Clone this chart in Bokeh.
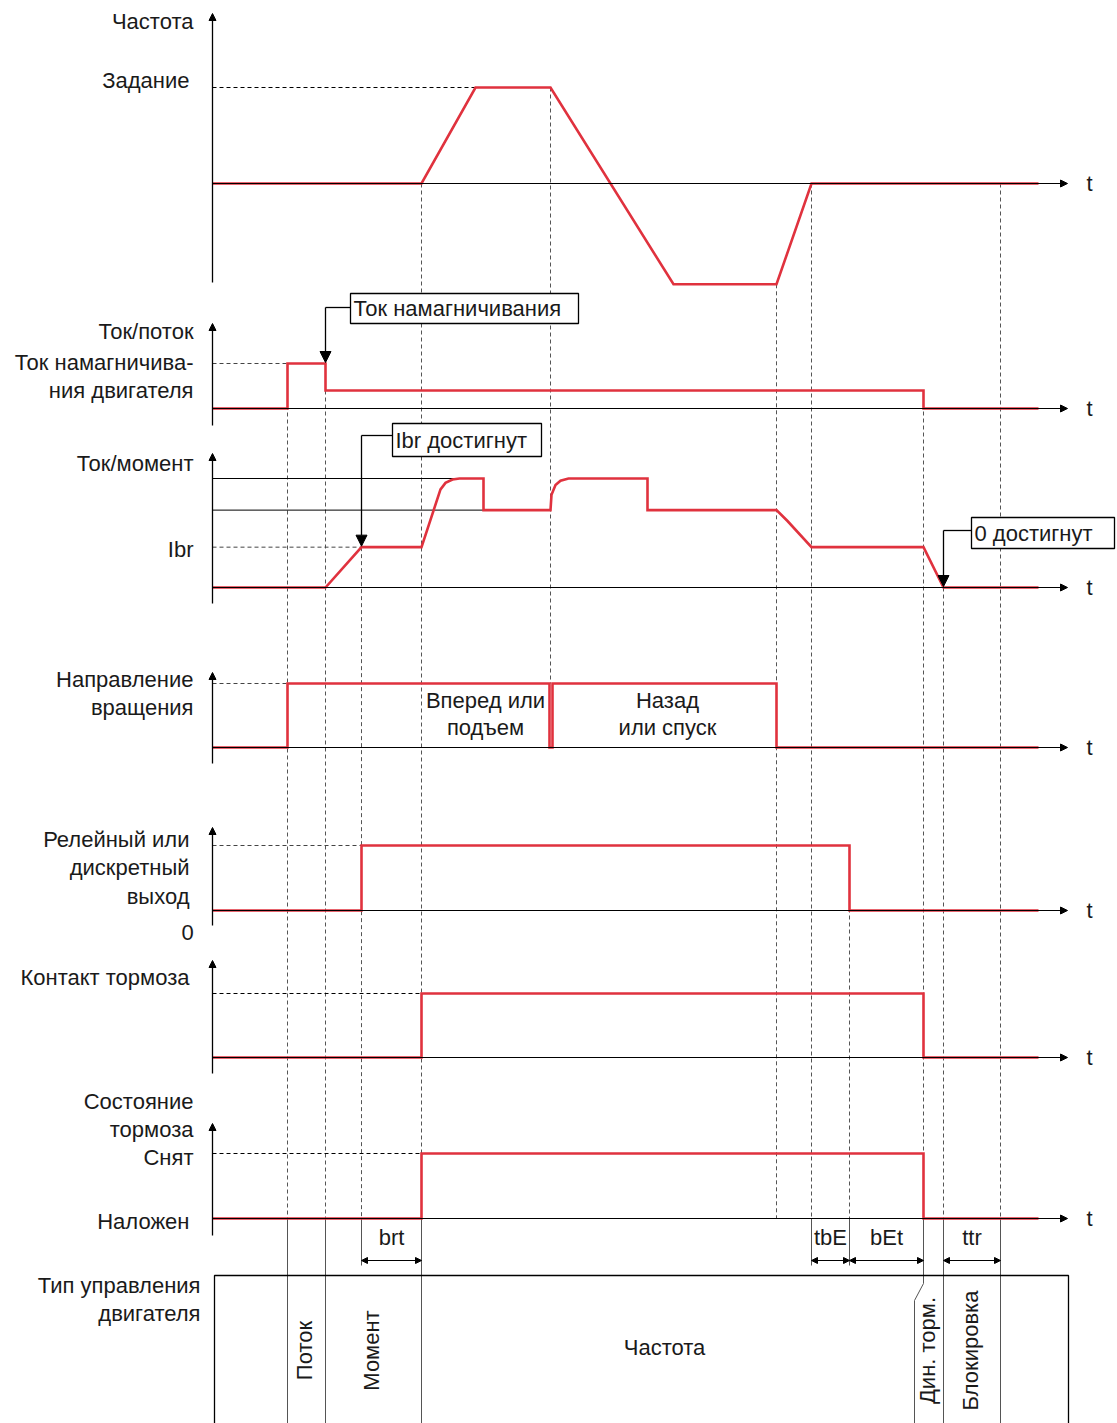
import math
from bokeh.plotting import figure
from bokeh.models import Range1d, Arrow, NormalHead
from bokeh.core.properties import value
from bokeh.embed import file_html
from bokeh.resources import INLINE

# ---------------- data (time units, origin at the vertical axes) ----------------
freq_t = [0, 209, 263, 338, 461, 564, 599, 826]
freq_v = [0, 0, 1, 1, -1.05, -1.05, 0, 0]

flux_t = [0, 75, 75, 113, 113, 711, 711, 826]
flux_v = [0, 0, 1, 1, 0.4, 0.4, 0, 0]

torque_t = [0, 113, 149, 209, 228, 233, 240, 247, 271, 271, 338, 339, 343, 348, 356,
            435, 435, 564, 575, 599, 711, 731, 826]
torque_v = [0, 0, 0.37, 0.37, 0.9, 0.96, 0.99, 1, 1, 0.71, 0.71, 0.85, 0.94, 0.98, 1,
            1, 0.71, 0.71, 0.61, 0.37, 0.37, 0, 0]

dir_t = [0, 75, 75, 337, 337, 340, 340, 564, 564, 826]
dir_v = [0, 0, 1, 1, 0, 0, 1, 1, 0, 0]

relay_t = [0, 149, 149, 637, 637, 826]
relay_v = [0, 0, 1, 1, 0, 0]

contact_t = [0, 209, 209, 711, 711, 826]
contact_v = [0, 0, 1, 1, 0, 0]

state_t = [0, 209, 209, 711, 711, 826]
state_v = [0, 0, 1, 1, 0, 0]

# event markers: time, (panel, level) of top end, bottom kind
markers = [
    (75, "flux", 1, "box"),
    (113, "flux", 0.4, "box"),
    (149, "torque", 0.37, "tick"),
    (209, "freq", 0, "box"),
    (338, "freq", 1, "dir"),
    (564, "freq", -1.05, "state"),
    (599, "freq", 0, "tick"),
    (637, "relay", 1, "tick"),
    (711, "flux", 0.4, "box"),
    (731, "torque", 0, "box"),
    (788, "freq", 0, "box"),
]

intervals = [("brt", 149, 209), ("tbE", 599, 637), ("bEt", 637, 711), ("ttr", 731, 788)]

modes = [("Поток", 75, 113), ("Момент", 113, 209), ("Частота", 209, 711),
         ("Дин. торм.", 702, 731), ("Блокировка", 731, 788)]

# ---------------- layout ----------------
# panel: baseline, unit height, axis top, axis bottom
PANELS = {
    "freq": (183, 96, 13, 282),
    "flux": (408, 45, 323, 425),
    "torque": (587, 109, 453, 603),
    "dir": (747, 64, 672, 763),
    "relay": (910, 65, 827, 925),
    "contact": (1057, 64, 960, 1073),
    "state": (1218, 65, 1123, 1235),
}

def Y(panel, level):
    b, h, _, _ = PANELS[panel]
    return b - h * level

RED = "#e0323e"
FONT = "Liberation Sans"
TXT = "#1a1a1a"
FS = 22
T_END = 855
BOX_TOP = 1275
BOX_BOTTOM = 1440
TICK_BOTTOM = 1265

p = figure(width=1117, height=1423, x_range=Range1d(-212, 905), y_range=Range1d(1423, 0),
           output_backend="svg", toolbar_location=None, min_border=0,
           x_axis_type=None, y_axis_type=None)
p.grid.visible = False
p.outline_line_color = None


def label(x, y, s, align="right", size=FS, angle=0.0, font=FONT, color=TXT):
    p.text(x=[x], y=[y], text=[s], text_align=align, text_baseline="middle",
           text_font_size=f"{size}px", text_font=value(font), angle=angle, text_color=color)


def arrow(x0, y0, x1, y1, size=9, width=1.3, start=False):
    head = lambda: NormalHead(size=size, fill_color="black", line_color="black", line_width=1)
    kw = dict(end=head(), x_start=x0, y_start=y0, x_end=x1, y_end=y1,
              line_color="black", line_width=width)
    if start:
        kw["start"] = head()
    p.add_layout(Arrow(**kw))

# ---- event markers (dashed verticals) ----
for t, pan, lev, kind in markers:
    top = Y(pan, lev)
    bottom = Y("dir", 1) if kind == "dir" else Y("state", 0)
    p.line([t, t], [top, bottom], line_color="#555555", line_width=1, line_dash="4 3")
    if kind == "tick":
        p.line([t, t], [bottom, TICK_BOTTOM], line_color="#555555", line_width=1)
    elif kind == "box" and t != 711:
        p.line([t, t], [bottom, BOX_BOTTOM], line_color="#555555", line_width=1)

# dynamic-braking divider with its kink
p.line([711, 711, 702, 702], [Y("state", 0), BOX_TOP + 8, BOX_TOP + 25, BOX_BOTTOM],
       line_color="#555555", line_width=1)

# ---- reference (dashed / solid) level lines ----
p.line([0, 263], [Y("freq", 1)] * 2, line_color="black", line_width=1, line_dash="4 3")
p.line([0, 75], [Y("flux", 1)] * 2, line_color="#444444", line_width=1, line_dash="4 3")
p.line([0, 149], [Y("torque", 0.37)] * 2, line_color="#444444", line_width=1, line_dash="4 3")
p.line([0, 247], [Y("torque", 1)] * 2, line_color="black", line_width=1)
p.line([0, 271], [Y("torque", 0.71)] * 2, line_color="black", line_width=1)
p.line([0, 75], [Y("dir", 1)] * 2, line_color="#444444", line_width=1, line_dash="4 3")
p.line([0, 149], [Y("relay", 1)] * 2, line_color="#444444", line_width=1, line_dash="4 3")
p.line([0, 209], [Y("contact", 1)] * 2, line_color="black", line_width=1, line_dash="4 3")
p.line([0, 209], [Y("state", 1)] * 2, line_color="black", line_width=1, line_dash="4 3")

# ---- axes ----
for name, (b, h, top, bot) in PANELS.items():
    arrow(0, bot, 0, top, size=7, width=1.3)
    arrow(0, b, T_END, b, size=7, width=1.2)
    label(T_END + 22, b, "t", align="center")

# ---- signals ----
signals = [("freq", freq_t, freq_v), ("flux", flux_t, flux_v), ("torque", torque_t, torque_v),
           ("dir", dir_t, dir_v), ("relay", relay_t, relay_v),
           ("contact", contact_t, contact_v), ("state", state_t, state_v)]
for pan, ts, vs in signals:
    p.line(ts, [Y(pan, v) for v in vs], line_color=RED, line_width=2.6, line_join="miter")

# ---- left labels ----
LX = -19
label(LX, 21, "Частота")
label(LX - 4, 80, "Задание")
label(LX, 331, "Ток/поток")
label(LX, 362, "Ток намагничива-")
label(LX, 390, "ния двигателя")
label(LX, 463, "Ток/момент")
label(LX, 549, "Ibr")
label(LX, 679, "Направление")
label(LX, 707, "вращения")
label(LX - 4, 839, "Релейный или")
label(LX - 4, 867, "дискретный")
label(LX - 4, 896, "выход")
label(-25, 932, "0", align="center")
label(LX - 4, 977, "Контакт тормоза")
label(LX, 1101, "Состояние")
label(LX, 1129, "тормоза")
label(LX, 1157, "Снят")
label(LX - 4, 1221, "Наложен")
label(LX + 7, 1285, "Тип управления")
label(LX + 7, 1313, "двигателя")

# ---- callouts ----
def callout(x0, x1, y0, y1, text, lead_y, target_t, target_y):
    p.quad(left=[x0], right=[x1], top=[y0], bottom=[y1], fill_color="white",
           line_color="black", line_width=1.3)
    label(x0 + 3, (y0 + y1) / 2, text, align="left")
    p.line([x0, target_t], [lead_y, lead_y], line_color="black", line_width=1.3)
    arrow(target_t, lead_y, target_t, target_y, size=11, width=1.3)

callout(138, 366, 293, 323, "Ток намагничивания", 307, 113, Y("flux", 1) - 1)
callout(180, 329, 423, 456, "Ibr достигнут", 435, 149, Y("torque", 0.37) - 1)
callout(759, 902, 517, 548, "0 достигнут", 530, 731, Y("torque", 0) - 1)

# ---- direction texts ----
label(273, 700, "Вперед или", align="center")
label(273, 727, "подъем", align="center")
label(455, 700, "Назад", align="center")
label(455, 727, "или спуск", align="center")

# ---- time intervals ----
for name, a, b in intervals:
    arrow(a, 1260, b, 1260, size=6, width=1.2, start=True)
    label((a + b) / 2, 1237, name, align="center")

# ---- motor control type box ----
p.line([2, 2, T_END + 1, T_END + 1], [BOX_BOTTOM, BOX_TOP, BOX_TOP, BOX_BOTTOM],
       line_color="black", line_width=1.3)
for name, a, b in modes:
    if name == "Частота":
        label((a + b) / 2 - 8, 1347, name, align="center")
    else:
        label((a + b) / 2 - 2, 1350, name, align="center", size=FS, angle=math.pi / 2)

open("out.html", "w").write(file_html(p, INLINE))
